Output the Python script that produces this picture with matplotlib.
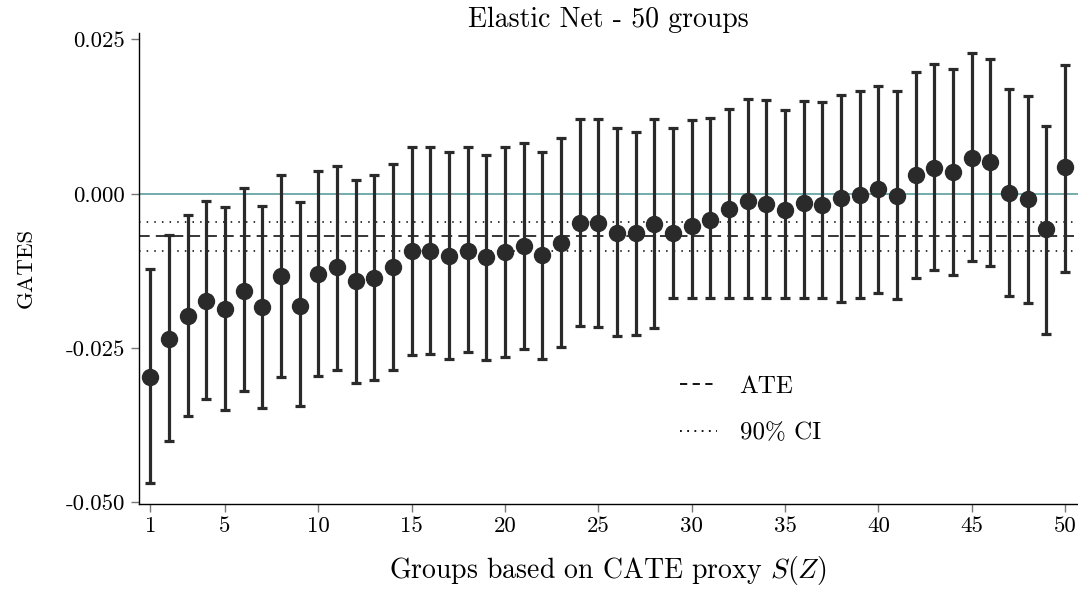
import matplotlib
matplotlib.use("Agg")
import matplotlib.pyplot as plt
from matplotlib.lines import Line2D
import numpy as np

plt.rcParams['font.family'] = ['cmr10', 'DejaVu Serif']
plt.rcParams['mathtext.fontset'] = 'cm'
plt.rcParams['axes.unicode_minus'] = False

groups = list(range(1, 51))
gates = [-0.0296, -0.0235, -0.0198, -0.0173, -0.0187, -0.0157, -0.0183, -0.0133, -0.0181, -0.0130,
         -0.0119, -0.0142, -0.0136, -0.0119, -0.0093, -0.0093, -0.0100, -0.0092, -0.0103, -0.0095,
         -0.0084, -0.0099, -0.0079, -0.0048, -0.0048, -0.0064, -0.0064, -0.0049, -0.0064, -0.0052,
         -0.0043, -0.0025, -0.0011, -0.0017, -0.0026, -0.0015, -0.0018, -0.0006, -0.0002, 0.0008,
         -0.0004, 0.0031, 0.0041, 0.0035, 0.0058, 0.0052, 0.0002, -0.0009, -0.0057, 0.0044]
upper = [-0.0122, -0.0066, -0.0034, -0.0012, -0.0022, 0.0009, -0.0019, 0.0031, -0.0014, 0.0037,
         0.0045, 0.0022, 0.0030, 0.0048, 0.0075, 0.0076, 0.0068, 0.0075, 0.0063, 0.0075,
         0.0082, 0.0068, 0.0090, 0.0121, 0.0121, 0.0106, 0.0100, 0.0121, 0.0107, 0.0119,
         0.0122, 0.0137, 0.0154, 0.0152, 0.0136, 0.0151, 0.0149, 0.0160, 0.0167, 0.0174,
         0.0166, 0.0197, 0.0211, 0.0202, 0.0228, 0.0219, 0.0170, 0.0158, 0.0110, 0.0208]
lower = [-0.0468, -0.0400, -0.0360, -0.0332, -0.0351, -0.0319, -0.0347, -0.0296, -0.0343, -0.0295,
         -0.0285, -0.0307, -0.0302, -0.0285, -0.0261, -0.0259, -0.0267, -0.0257, -0.0269, -0.0265,
         -0.0252, -0.0267, -0.0248, -0.0214, -0.0215, -0.0230, -0.0228, -0.0218, -0.0169, -0.0169,
         -0.0169, -0.0169, -0.0169, -0.0169, -0.0169, -0.0169, -0.0169, -0.0176, -0.0169, -0.0160,
         -0.0171, -0.0137, -0.0124, -0.0132, -0.0109, -0.0117, -0.0166, -0.0177, -0.0227, -0.0126]
ate = -0.0069
ate_ci = [-0.0092, -0.0046]

x_ticks = [1, 5, 10, 15, 20, 25, 30, 35, 40, 45, 50]
y_ticks = [-0.050, -0.025, 0.000, 0.025]
y_tick_labels = ["-0.050", "-0.025", "0.000", "0.025"]

fig = plt.figure(figsize=(10.78, 5.94), dpi=100)
ax = fig.add_axes([0.1285, 0.152, 0.8715, 0.793])

g = np.array(gates)
yerr = np.vstack([g - np.array(lower), np.array(upper) - g])
dark = '#2a2a2a'
ax.errorbar(groups, gates, yerr=yerr, fmt='o', color=dark, ecolor=dark,
            markersize=11.5, elinewidth=2.3, capsize=3.5, capthick=2.3, zorder=3)

ax.axhline(0.0, color='#5a9e9c', lw=1.2, zorder=1)
ax.axhline(ate, color='black', lw=1.1, ls=(0, (7, 4)), zorder=1)
for v in ate_ci:
    ax.axhline(v, color='black', lw=1.1, ls=(0, (1, 4)), zorder=1)

ax.set_xlim(0.37, 50.7)
ax.set_ylim(-0.0502, 0.0261)
ax.set_xticks(x_ticks)
ax.set_xticklabels([str(t) for t in x_ticks])
ax.set_yticks(y_ticks)
ax.set_yticklabels(y_tick_labels)
ax.tick_params(axis='both', labelsize=16.5, length=6, width=1, color='#777777', direction='out')

for s in ['top', 'right']:
    ax.spines[s].set_visible(False)
for s in ['left', 'bottom']:
    ax.spines[s].set_color('black')
    ax.spines[s].set_linewidth(1.0)

ax.set_title("Elastic Net - 50 groups", fontsize=20, pad=3)
ax.set_xlabel(r"Groups based on CATE proxy $S(Z)$", fontsize=20, labelpad=13)
ax.set_ylabel("GATES", fontsize=16.5, labelpad=22)

handles = [Line2D([0], [0], color='black', lw=1.3, ls=(0, (4, 3))),
           Line2D([0], [0], color='black', lw=1.3, ls=(0, (1, 3)))]
ax.legend(handles, ["ATE", "90% CI"], loc='upper left', bbox_to_anchor=(0.576, 0.272),
          frameon=False, fontsize=18, handlelength=1.5, labelspacing=0.95,
          handletextpad=0.9, borderpad=0, borderaxespad=0)

fig.savefig("out.png", dpi=100)
